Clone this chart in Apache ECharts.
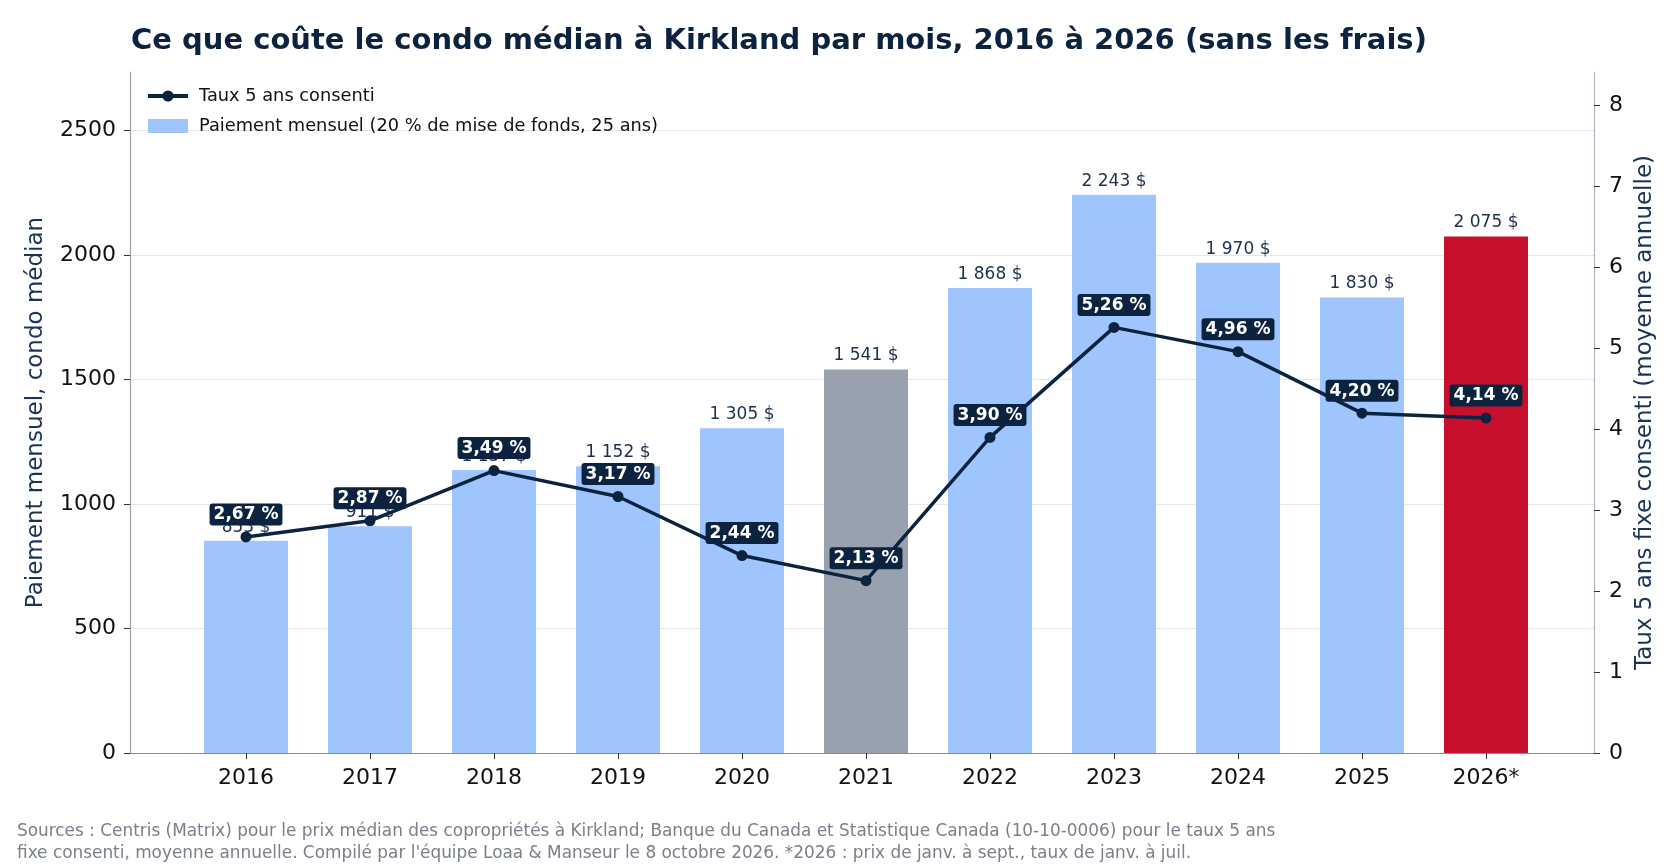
<!DOCTYPE html>
<html>
<head>
<meta charset="utf-8">
<script src="https://cdn.jsdelivr.net/npm/echarts@6/dist/echarts.min.js"></script>
<style>
  html, body { margin: 0; padding: 0; background: #fff; }
  #chart { width: 1680px; height: 868px; }
</style>
</head>
<body>
<div id="chart"></div>
<script>
// ======================
// DATA
// ======================

const years = ['2016', '2017', '2018', '2019', '2020', '2021', '2022', '2023', '2024', '2025', '2026*'];
const payments = [853, 911, 1137, 1152, 1305, 1541, 1868, 2243, 1970, 1830, 2075];
const rates = [2.67, 2.87, 3.49, 3.17, 2.44, 2.13, 3.90, 5.26, 4.96, 4.20, 4.14];

const paymentMax = 2736;
const rateMax = 8.416;

// ======================
// HELPERS
// ======================

const FONT = '"DejaVu Sans", sans-serif';
const NAVY = '#0c2340';

const fmtMoney = v => String(v).replace(/\B(?=(\d{3})+(?!\d))/g, '\u00a0') + ' $';
const fmtRate = v => v.toFixed(2).replace('.', ',') + ' %';
const fmtInt = v => (Number.isInteger(v) ? String(v) : '');

const barColor = i => {
    if (i === 5) return '#98a2ae';
    if (i === 10) return '#c8102e';
    return '#9fc5fe';
};

// ======================
// CHART
// ======================

const chart = echarts.init(document.getElementById('chart'));

const option = {
    animation: false,
    textStyle: { fontFamily: FONT },
    title: [
        {
            text: 'Ce que coûte le condo médian à Kirkland par mois, 2016 à 2026 (sans les frais)',
            left: 126,
            top: 22,
            textStyle: { fontFamily: FONT, fontSize: 29, fontWeight: 'bold', color: NAVY }
        },
        {
            text: 'Sources : Centris (Matrix) pour le prix médian des copropriétés à Kirkland; Banque du Canada et Statistique Canada (10-10-0006) pour le taux 5 ans\nfixe consenti, moyenne annuelle. Compilé par l\'équipe Loaa & Manseur le 8 octobre 2026. *2026 : prix de janv. à sept., taux de janv. à juil.',
            left: 12,
            top: 816,
            textStyle: { fontFamily: FONT, fontSize: 16.9, fontWeight: 'normal', color: '#7a808a', lineHeight: 22 }
        }
    ],
    legend: {
        orient: 'vertical',
        left: 146,
        top: 87,
        padding: 0,
        itemWidth: 40,
        itemHeight: 14,
        itemGap: 12,
        textStyle: { fontFamily: FONT, fontSize: 17.8, color: '#111', padding: [0, 0, 0, 6] },
        data: [
            { name: 'Taux 5 ans consenti', lineStyle: { width: 4 } },
            { name: 'Paiement mensuel (20 % de mise de fonds, 25 ans)', icon: 'rect' }
        ]
    },
    grid: [
        { left: 130, right: 86, top: 72, bottom: 115 },
        { left: 184, right: 132, top: 72, bottom: 115 }
    ],
    xAxis: [
        {
            gridIndex: 0,
            type: 'value',
            min: 0,
            max: 1,
            axisLine: { show: true, onZero: false, lineStyle: { color: '#8c8c8c', width: 1.2 } },
            axisTick: { show: false },
            axisLabel: { show: false },
            splitLine: { show: false }
        },
        {
            gridIndex: 1,
            type: 'category',
            data: years,
            axisLine: { show: false, onZero: false },
            axisTick: { show: true, alignWithLabel: true, length: 6, lineStyle: { color: '#333' } },
            axisLabel: { fontFamily: FONT, fontSize: 22, color: '#111', margin: 14 }
        }
    ],
    yAxis: [
        {
            gridIndex: 0,
            type: 'value',
            position: 'left',
            min: 0,
            max: paymentMax,
            interval: 500,
            name: 'Paiement mensuel, condo médian',
            nameLocation: 'middle',
            nameGap: 82,
            nameTextStyle: { fontFamily: FONT, fontSize: 23, color: '#1b3358' },
            axisLine: { show: true, onZero: false, lineStyle: { color: '#9aa0a6', width: 1.2 } },
            axisTick: { show: true, length: 6, lineStyle: { color: '#333' } },
            axisLabel: { fontFamily: FONT, fontSize: 22, color: '#111', margin: 14, formatter: fmtInt, showMaxLabel: false },
            splitLine: { show: true, showMaxLine: false, lineStyle: { color: '#e3e6ea', width: 1.2 } }
        },
        {
            gridIndex: 0,
            type: 'value',
            position: 'right',
            min: 0,
            max: rateMax,
            interval: 1,
            name: 'Taux 5 ans fixe consenti (moyenne annuelle)',
            nameLocation: 'middle',
            nameGap: 36,
            nameRotate: 90,
            nameTextStyle: { fontFamily: FONT, fontSize: 23, color: '#1b3358' },
            axisLine: { show: true, onZero: false, lineStyle: { color: '#a9b4c4', width: 1.2 } },
            axisTick: { show: true, length: 6, lineStyle: { color: '#333' } },
            axisLabel: { fontFamily: FONT, fontSize: 22, color: '#111', margin: 15, formatter: fmtInt, showMaxLabel: false },
            splitLine: { show: false }
        },
        { gridIndex: 1, type: 'value', min: 0, max: paymentMax, show: false },
        { gridIndex: 1, type: 'value', min: 0, max: rateMax, show: false }
    ],
    series: [
        {
            name: 'Paiement mensuel (20 % de mise de fonds, 25 ans)',
            type: 'bar',
            xAxisIndex: 1,
            yAxisIndex: 2,
            barWidth: 84,
            itemStyle: { color: '#9fc5fe' },
            label: {
                show: true,
                position: 'top',
                distance: 5,
                fontFamily: FONT,
                fontSize: 17,
                color: '#1b2f4f',
                formatter: p => fmtMoney(p.value)
            },
            data: payments.map((v, i) => ({ value: v, itemStyle: { color: barColor(i) } }))
        },
        {
            name: 'Taux 5 ans consenti',
            type: 'line',
            xAxisIndex: 1,
            yAxisIndex: 3,
            z: 5,
            symbol: 'circle',
            symbolSize: 11,
            itemStyle: { color: NAVY },
            lineStyle: { color: NAVY, width: 3.5 },
            label: {
                show: true,
                position: 'top',
                distance: 6,
                fontFamily: FONT,
                fontSize: 17,
                lineHeight: 17,
                fontWeight: 'bold',
                color: '#fff',
                backgroundColor: NAVY,
                borderRadius: 3,
                padding: [3, 4, 2, 4],
                formatter: p => fmtRate(p.value)
            },
            data: rates
        }
    ]
};

try {
    chart.setOption(option);
} catch (error) {
    console.error('[MortgageChart] setOption error:', error);
}
</script>
</body>
</html>
